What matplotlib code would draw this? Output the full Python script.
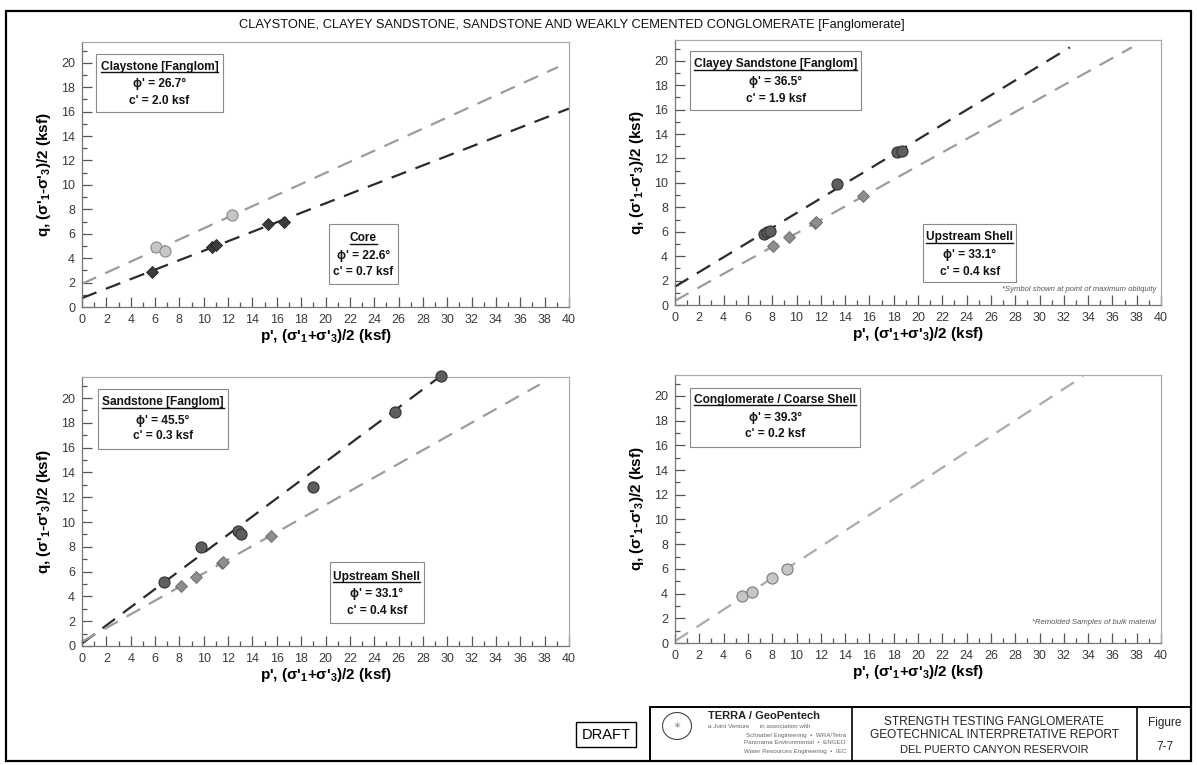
import matplotlib
matplotlib.use('Agg')
import matplotlib.pyplot as plt
from matplotlib.patches import Rectangle, Ellipse
from matplotlib.lines import Line2D
from matplotlib.ticker import MultipleLocator

plt.rcParams['font.family'] = ['Liberation Sans', 'DejaVu Sans']
plt.rcParams['mathtext.default'] = 'regular'

# ---- data (p', q in ksf) ----
claystone_p = [6.1, 6.8, 12.3]
claystone_q = [4.95, 4.6, 7.5]
core_p = [5.75, 10.7, 11.0, 15.3, 16.6]
core_q = [2.9, 4.95, 5.05, 6.8, 6.95]

clayey_p = [7.3, 7.6, 7.8, 13.3, 18.3, 18.7]
clayey_q = [5.85, 6.0, 6.1, 9.9, 12.5, 12.6]
shell_p = [8.1, 9.4, 11.5, 11.6, 15.5]
shell_q = [4.8, 5.6, 6.7, 6.8, 8.9]

sandstone_p = [6.7, 9.75, 12.8, 13.1, 19.0, 25.7, 29.5]
sandstone_q = [5.2, 7.95, 9.25, 9.05, 12.85, 18.85, 21.75]

congl_p = [5.55, 6.3, 8.0, 9.2]
congl_q = [3.77, 4.1, 5.26, 6.0]

# failure envelopes (end points)
claystone_env_p = [0, 39.1]
claystone_env_q = [1.9, 19.65]
core_env_p = [0, 40]
core_env_q = [0.73, 16.25]
clayey_env_p = [0, 32.5]
clayey_env_q = [1.5, 21.1]
shell_env_p = [0, 37.6]
shell_env_q = [0.35, 21.1]
sandstone_env_p = [0, 29.5]
sandstone_env_q = [0.2, 21.8]
congl_env_p = [0, 33.6]
congl_env_q = [0.15, 21.6]

W, H = 1197, 765
fig = plt.figure(figsize=(W / 100, H / 100), dpi=100)

# background layer in pixel coords for frame / title block
bg = fig.add_axes([0, 0, 1, 1], zorder=-5)
bg.set_xlim(0, W)
bg.set_ylim(H, 0)
bg.axis('off')

XLAB = "p', ($\\sigma$'$_1$+$\\sigma$'$_3$)/2 (ksf)"
YLAB = "q, ($\\sigma$'$_1$-$\\sigma$'$_3$)/2 (ksf)"

DARK = '#2b2b2b'
LIGHT = '#9c9c9c'
DASH = (0, (7, 4.5))

underlined = []


def make_axes(left, top, right, bottom):
    ax = fig.add_axes([left / W, 1 - bottom / H, (right - left) / W, (bottom - top) / H])
    ax.set_xlim(0, 40)
    ax.set_ylim(0, 21.7)
    ax.xaxis.set_major_locator(MultipleLocator(2))
    ax.xaxis.set_minor_locator(MultipleLocator(1))
    ax.yaxis.set_major_locator(MultipleLocator(2))
    ax.yaxis.set_minor_locator(MultipleLocator(1))
    ax.tick_params(which='both', direction='in', color='#555555', width=0.9)
    ax.tick_params(which='major', length=7, labelsize=9, labelcolor='#3a3a3a', pad=5)
    ax.tick_params(which='minor', length=3.5)
    for s in ax.spines.values():
        s.set_color('#777777')
        s.set_linewidth(0.9)
    ax.spines['top'].set_color('#aaaaaa')
    ax.spines['right'].set_color('#aaaaaa')
    ax.set_xlabel(XLAB, fontsize=11, fontweight='bold', labelpad=1)
    ax.set_ylabel(YLAB, fontsize=11, fontweight='bold', labelpad=6)
    return ax


def info_box(ax, x0, x1, y0, y1, lines, ys):
    ax.add_patch(Rectangle((x0, y0), x1 - x0, y1 - y0, transform=ax.transAxes,
                           facecolor='white', edgecolor='#8a8a8a', lw=0.8, zorder=4))
    xc = (x0 + x1) / 2
    for i, (s, y) in enumerate(zip(lines, ys)):
        t = ax.text(xc, y, s, transform=ax.transAxes, ha='center', va='center',
                    fontsize=8.6, fontweight='bold', color='#111111', zorder=5)
        if i == 0:
            underlined.append(t)


def envelope(ax, p, q, color):
    ax.plot(p, q, color=color, lw=1.6, linestyle=DASH, zorder=2, clip_on=False)


# ---- panel 1 : claystone ----
ax1 = make_axes(82, 42, 569, 307)
envelope(ax1, claystone_env_p, claystone_env_q, LIGHT)
envelope(ax1, core_env_p, core_env_q, DARK)
ax1.plot(claystone_p, claystone_q, 'o', ms=8, mfc='#c6c6c6', mec='#8a8a8a', mew=0.8, zorder=3)
ax1.plot(core_p, core_q, 'D', ms=6.5, mfc='#3c3c3c', mec='#222222', mew=0.6, zorder=3)
info_box(ax1, 0.029, 0.289, 0.734, 0.956,
         ["Claystone [Fanglom]", "ϕ' = 26.7°", "c' = 2.0 ksf"], [0.906, 0.841, 0.779])
info_box(ax1, 0.508, 0.648, 0.085, 0.3125,
         ["Core", "ϕ' = 22.6°", "c' = 0.7 ksf"], [0.26, 0.194, 0.131])

# ---- panel 2 : clayey sandstone ----
ax2 = make_axes(675, 40, 1161, 305)
envelope(ax2, clayey_env_p, clayey_env_q, DARK)
envelope(ax2, shell_env_p, shell_env_q, LIGHT)
ax2.plot(clayey_p, clayey_q, 'o', ms=8, mfc='#5e5e5e', mec='#333333', mew=0.8, zorder=3)
ax2.plot(shell_p, shell_q, 'D', ms=6.5, mfc='#8e8e8e', mec='#666666', mew=0.6, zorder=3)
info_box(ax2, 0.0315, 0.383, 0.736, 0.96,
         ["Clayey Sandstone [Fanglom]", "ϕ' = 36.5°", "c' = 1.9 ksf"], [0.909, 0.842, 0.779])
info_box(ax2, 0.511, 0.702, 0.088, 0.306,
         ["Upstream Shell", "ϕ' = 33.1°", "c' = 0.4 ksf"], [0.255, 0.189, 0.126])
ax2.text(0.99, 0.057, "*Symbol shown at point of maximum obliquity", transform=ax2.transAxes,
         ha='right', va='center', fontsize=5.5, style='italic', color='#555555')

# ---- panel 3 : sandstone ----
ax3 = make_axes(82, 377, 569, 646)
envelope(ax3, sandstone_env_p, sandstone_env_q, DARK)
envelope(ax3, shell_env_p, shell_env_q, LIGHT)
ax3.plot(sandstone_p, sandstone_q, 'o', ms=8, mfc='#5e5e5e', mec='#333333', mew=0.8,
         zorder=3, clip_on=False)
ax3.plot(shell_p, shell_q, 'D', ms=6.5, mfc='#8e8e8e', mec='#666666', mew=0.6, zorder=3)
info_box(ax3, 0.033, 0.30, 0.733, 0.955,
         ["Sandstone [Fanglom]", "ϕ' = 45.5°", "c' = 0.3 ksf"], [0.907, 0.835, 0.779])
info_box(ax3, 0.509, 0.702, 0.085, 0.313,
         ["Upstream Shell", "ϕ' = 33.1°", "c' = 0.4 ksf"], [0.258, 0.194, 0.131])

# ---- panel 4 : conglomerate ----
ax4 = make_axes(675, 375, 1161, 643)
envelope(ax4, congl_env_p, congl_env_q, '#ababab')
ax4.plot(congl_p, congl_q, 'o', ms=8, mfc='#c6c6c6', mec='#7a7a7a', mew=0.8, zorder=3)
info_box(ax4, 0.031, 0.381, 0.733, 0.95,
         ["Conglomerate / Coarse Shell", "ϕ' = 39.3°", "c' = 0.2 ksf"], [0.907, 0.839, 0.779])
ax4.text(0.99, 0.075, "*Remolded Samples of bulk material", transform=ax4.transAxes,
         ha='right', va='center', fontsize=5.5, style='italic', color='#555555')

# ---- sheet frame, heading and title block ----
bg.add_patch(Rectangle((6, 11), 1185, 750, fill=False, edgecolor='black', lw=1.6))
bg.text(572, 25, "CLAYSTONE, CLAYEY SANDSTONE, SANDSTONE AND WEAKLY CEMENTED CONGLOMERATE [Fanglomerate]",
        ha='center', va='center', fontsize=9.3, color='#111111')

bg.add_patch(Rectangle((576, 722), 60, 25, fill=False, edgecolor='black', lw=1.0))
bg.text(606, 735, "DRAFT", ha='center', va='center', fontsize=10.5)

bg.add_patch(Rectangle((650, 707), 541, 54, fill=False, edgecolor='black', lw=1.4))
bg.plot([852, 852], [707, 761], color='black', lw=1.2)
bg.plot([1137, 1137], [707, 761], color='black', lw=1.2)
bg.add_patch(Ellipse((677, 726), 29, 27, fill=False, edgecolor='#444444', lw=0.8))
bg.text(677, 726, "✳", ha='center', va='center', fontsize=6, color='#666666',
        family=['DejaVu Sans'])
bg.text(708, 716, "TERRA / GeoPentech", ha='left', va='center', fontsize=8, fontweight='bold',
        color='#222222')
small = ["a Joint Venture      in association with",
         "Schnabel Engineering  •  WRA/Tetra",
         "Panorama Environmental  •  ENGEO",
         "Water Resources Engineering  •  IEC"]
for i, s in enumerate(small):
    bg.text(846 if i else 708, 727 + 8 * i, s, ha='right' if i else 'left', va='center',
            fontsize=4.5, color='#666666')

block = ["STRENGTH TESTING FANGLOMERATE", "GEOTECHNICAL INTERPRETATIVE REPORT",
         "DEL PUERTO CANYON RESERVOIR"]
for s, y, fs in zip(block, [722, 735, 750], [8.6, 8.6, 8]):
    bg.text(994, y, s, ha='center', va='center', fontsize=fs, color='#222222')
bg.text(1165, 723, "Figure", ha='center', va='center', fontsize=8.5, color='#222222')
bg.text(1165, 747, "7-7", ha='center', va='center', fontsize=8.5, color='#222222')

# underline the box headings
fig.canvas.draw()
r = fig.canvas.get_renderer()
for t in underlined:
    bb = t.get_window_extent(r)
    fig.add_artist(Line2D([bb.x0 / W, bb.x1 / W], [(bb.y0 + 0.5) / H] * 2,
                          transform=fig.transFigure, color='#111111', lw=1.0, zorder=10))

fig.savefig('out.png', dpi=100)
